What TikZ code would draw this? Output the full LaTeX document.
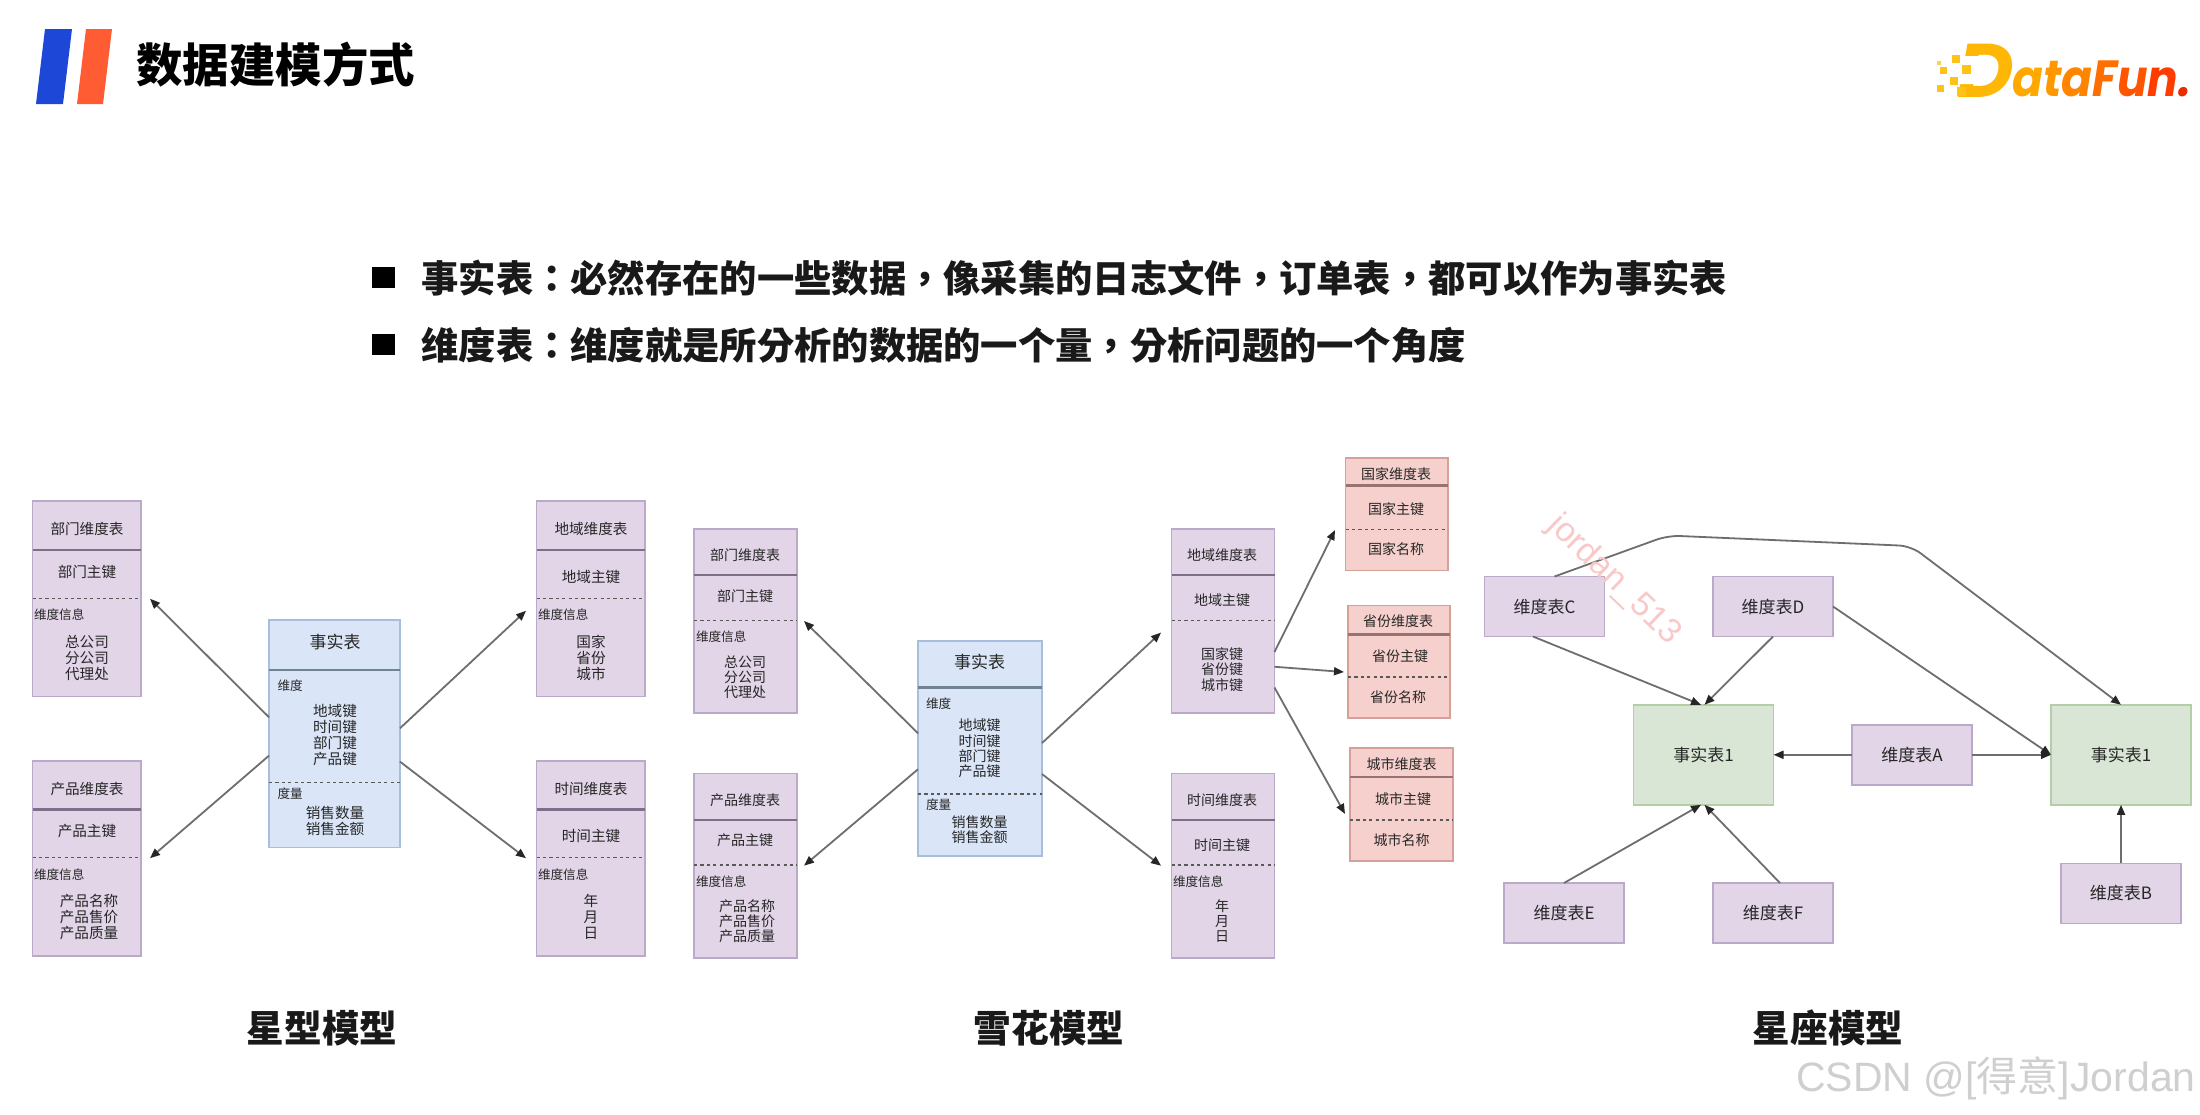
\documentclass[tikz,border=0pt]{standalone}
\usepackage{fontspec}
\setmainfont{Noto Sans CJK SC}
\newfontfamily\latinsans{Liberation Sans}
\newfontfamily\logofont{Poppins}
\newfontfamily\bulletfont{Noto Sans CJK TC}
\usetikzlibrary{arrows.meta,calc}
\definecolor{pfill}{HTML}{E1D5E7}\definecolor{pline}{HTML}{BBA9C9}\definecolor{pbar}{HTML}{7F6E8A}
\definecolor{bfill}{HTML}{DAE6F8}\definecolor{bline}{HTML}{A9BEDC}\definecolor{bbar}{HTML}{6F8296}
\definecolor{gfill}{HTML}{D9E6D6}\definecolor{gline}{HTML}{B4CFA6}
\definecolor{rfill}{HTML}{F6D0CC}\definecolor{rline}{HTML}{D69F9A}\definecolor{rbar}{HTML}{9A7370}
\definecolor{arrowc}{HTML}{6E6E6E}
\definecolor{logoblue}{HTML}{1D47D6}\definecolor{logored}{HTML}{FF5C33}
\definecolor{wmpink}{HTML}{F9C8C8}\definecolor{wmgrey}{HTML}{CFCFCF}
\tikzset{
  tablebox/.style={rectangle,draw=#1line,fill=#1fill,line width=0.8pt,inner sep=0pt,outer sep=0pt},
  headbar/.style={line width=1.3pt},
  dashbar/.style={line width=0.8pt,dash pattern=on 1.6pt off 1.6pt,draw=black!65},
  tx/.style={inner sep=0pt,outer sep=0pt,text=black!85,align=center,font=\fontsize{7.3pt}{8pt}\selectfont},
  txs/.style={tx,font=\fontsize{7pt}{7.65pt}\selectfont},
  smallleft/.style={tx,anchor=west,font=\fontsize{6.3pt}{8pt}\selectfont},
  big/.style={tx,font=\fontsize{8.5pt}{10pt}\selectfont},
  caption/.style={inner sep=0pt,text=black!90,font=\fontsize{18.8pt}{20pt}\bfseries\selectfont},
  bullettext/.style={inner sep=0pt,anchor=west,text=black!90,font=\bulletfont\fontsize{18.65pt}{20pt}\bfseries\selectfont},
  link/.style={draw=arrowc,line width=0.9pt,-{Triangle[length=5pt,width=4pt,color=black!85]}},
  dimbox/.style={tablebox=p,minimum width=60pt,minimum height=30pt,text=black!85,font=\fontsize{8.5pt}{10pt}\selectfont},
  factbox/.style={tablebox=g,minimum width=70pt,minimum height=50pt,text=black!85,font=\fontsize{8.5pt}{10pt}\selectfont}
}
\newcommand\tbl[8]{% name, colour, x0, y0, x1, y1, header y, dash y
  \pgfmathsetmacro\bw{(#5-#3)*0.5}\pgfmathsetmacro\bh{(#6-#4)*0.5}
  \node[tablebox=#2,minimum width=\bw pt,minimum height=\bh pt] (#1) at ({(#3+#5)/2},{(#4+#6)/2}) {};
  \draw[headbar,draw=#2bar] (#3,#7) -- (#5,#7);
  \draw[dashbar] (#3,#8) -- (#5,#8);
}
\begin{document}
\begin{tikzpicture}[x=0.5pt,y=-0.5pt]
\useasboundingbox (0,0) rectangle (2200,1114);
\fill[white] (0,0) rectangle (2200,1114);
% header
\fill[logoblue] (45,29) -- (72,29) -- (63,104) -- (36,104) -- cycle;
\fill[logored] (86,29) -- (112,29) -- (103,104) -- (77,104) -- cycle;
\node[inner sep=0pt,anchor=west,font=\fontsize{23.2pt}{24pt}\bfseries\selectfont] (title) at (136,65) {数据建模方式};
% DataFun logo
\definecolor{d1}{HTML}{FFB705}\definecolor{d2}{HTML}{FFA800}\definecolor{d3}{HTML}{FF9800}\definecolor{d4}{HTML}{FF8500}\definecolor{d5}{HTML}{FF6E00}\definecolor{d6}{HTML}{FF5500}\definecolor{d7}{HTML}{FF3D00}\definecolor{d8}{HTML}{E92C00}
\node[inner sep=0pt,anchor=south west,xscale=1.02,transform shape,font=\logofont\fontsize{38pt}{39pt}\bfseries\itshape\selectfont,text=d1] (logoD) at (1957,98) {D};
\fill[white] (1960,56) -- (1990,56) -- (1984,84) -- (1954,84) -- cycle;
\foreach \px/\py/\ps/\pc in {1937/61/4/FFD24A,1952/55/8/FFC21A,1940/67/7/FFC21A,1962/65/9/FFC21A,1950/77/8/FFC21A,1937/85/7/FFC21A,1957/87/9/FFC21A}{
  \definecolor{dotc}{HTML}{\pc}\fill[dotc] (\px,\py) rectangle ++(\ps,\ps);}
\node[inner sep=0pt,anchor=south west,yscale=1.12,transform shape,font=\logofont\fontsize{22.7pt}{24pt}\bfseries\itshape\selectfont] (logoT) at (2012,97) {\textcolor{d2}{a}\textcolor{d3}{t}\textcolor{d4}{a}\textcolor{d5}{F}\textcolor{d6}{u}\textcolor{d7}{n}\textcolor{d8}{.}};
% bullets
\fill[black] (372,267) rectangle (395,288);
\fill[black] (372,334) rectangle (395,355);
\node[bullettext] (b1) at (421,278) {事实表：必然存在的一些数据，像采集的日志文件，订单表，都可以作为事实表};
\node[bullettext] (b2) at (421,345) {维度表：维度就是所分析的数据的一个量，分析问题的一个角度};
% --- star model ---
\tbl{sD}{p}{32.5}{501}{141}{696.5}{550}{598.3}
\tbl{sP}{p}{32.5}{760.7}{141}{955.7}{809.3}{857.3}
\tbl{sG}{p}{536.5}{501}{645}{696.5}{550}{598.3}
\tbl{sT}{p}{536.5}{760.7}{645}{955.7}{809.3}{857.3}
\tbl{sF}{b}{269}{620}{400}{847.3}{670}{782.3}
\node[tx] (sD1) at (87,529.3) {部门维度表};
\node[tx] (sD2) at (87,571.7) {部门主键};
\node[smallleft] (sD3) at (34,615) {维度信息};
\node[tx] (sD4) at (87,658) {总公司\\分公司\\代理处};
\node[tx] (sP1) at (87,788.7) {产品维度表};
\node[tx] (sP2) at (87,831) {产品主键};
\node[smallleft] (sP3) at (34,874.3) {维度信息};
\node[tx] (sP4) at (89,917) {产品名称\\产品售价\\产品质量};
\node[tx] (sG1) at (591,529.3) {地域维度表};
\node[tx] (sG2) at (591,577.3) {地域主键};
\node[smallleft] (sG3) at (538,615) {维度信息};
\node[tx] (sG4) at (591,658) {国家\\省份\\城市};
\node[tx] (sT1) at (591,788.7) {时间维度表};
\node[tx] (sT2) at (591,836) {时间主键};
\node[smallleft] (sT3) at (538,874.3) {维度信息};
\node[tx] (sT4) at (591,917) {年\\月\\日};
\node[big] (sF1) at (335,642.3) {事实表};
\node[smallleft] (sF2) at (277.5,686) {维度};
\node[tx] (sF3) at (335,734.7) {地域键\\时间键\\部门键\\产品键};
\node[smallleft] (sF4) at (277.5,793.3) {度量};
\node[tx] (sF5) at (335,820.7) {销售数量\\销售金额};
\draw[link] ([yshift=8.2pt]sF.west) -- ([xshift=4.5pt]sD.east);
\draw[link] ([yshift=-11pt]sF.west) -- ([xshift=4.5pt]sP.east);
\draw[link] ([yshift=2.7pt]sF.east) -- ([shift={(-5.25pt,-6pt)}]sG.west);
\draw[link] ([yshift=-14pt]sF.east) -- ([xshift=-5.25pt]sT.west);
\node[caption] (capA) at (322,1028) {星型模型};
% --- snowflake model ---
\tbl{fD}{p}{694}{528.7}{797}{713.2}{575}{620.4}
\tbl{fP}{p}{694}{773.4}{797}{958}{819.8}{865.2}
\tbl{fG}{p}{1171.5}{528.7}{1274.5}{713.2}{575}{620.4}
\tbl{fT}{p}{1171.5}{773.4}{1274.5}{958}{819.8}{865.2}
\tbl{fF}{b}{918}{641}{1042}{855.9}{687.5}{794}
\tbl{fC}{r}{1345.6}{457.9}{1448}{570.6}{485.7}{529.4}
\tbl{fS}{r}{1348}{605.3}{1450}{717.7}{634.2}{677.2}
\tbl{fI}{r}{1350}{748}{1453}{860.7}{776.8}{819.8}
\node[txs] (fD1) at (745,555.5) {部门维度表};
\node[txs] (fD2) at (745,595.7) {部门主键};
\node[smallleft] (fD3) at (696,636.6) {维度信息};
\node[txs] (fD4) at (745,677.2) {总公司\\分公司\\代理处};
\node[txs] (fP1) at (745,799.9) {产品维度表};
\node[txs] (fP2) at (745,839.7) {产品主键};
\node[smallleft] (fP3) at (696,881.3) {维度信息};
\node[txs] (fP4) at (747,921.2) {产品名称\\产品售价\\产品质量};
\node[txs] (fG1) at (1222,555.5) {地域维度表};
\node[txs] (fG2) at (1222,600.5) {地域主键};
\node[txs] (fG3) at (1222,669.6) {国家键\\省份键\\城市键};
\node[txs] (fT1) at (1222,799.9) {时间维度表};
\node[txs] (fT2) at (1222,845.6) {时间主键};
\node[smallleft] (fT3) at (1173,881.3) {维度信息};
\node[txs] (fT4) at (1222,921.2) {年\\月\\日};
\node[big] (fF1) at (979.5,661.7) {事实表};
\node[smallleft] (fF2) at (926,703.3) {维度};
\node[txs] (fF3) at (979.5,748.5) {地域键\\时间键\\部门键\\产品键};
\node[smallleft] (fF4) at (926,805) {度量};
\node[txs] (fF5) at (979.5,830) {销售数量\\销售金额};
\node[txs] (fC1) at (1396,473.7) {国家维度表};
\node[txs] (fC2) at (1396,508.7) {国家主键};
\node[txs] (fC3) at (1396,549.3) {国家名称};
\node[txs] (fS1) at (1398,621.5) {省份维度表};
\node[txs] (fS2) at (1400,656.5) {省份主键};
\node[txs] (fS3) at (1398,697.1) {省份名称};
\node[txs] (fI1) at (1401.6,764.1) {城市维度表};
\node[txs] (fI2) at (1403,799.2) {城市主键};
\node[txs] (fI3) at (1401.6,839.7) {城市名称};
\draw[link] ([yshift=7.6pt]fF.west) -- ([xshift=3.5pt]fD.east);
\draw[link] ([yshift=-10.4pt]fF.west) -- ([xshift=3.5pt]fP.east);
\draw[link] ([yshift=2.7pt]fF.east) -- ([shift={(-5.25pt,-5.8pt)}]fG.west);
\draw[link] ([yshift=-12.8pt]fF.east) -- ([xshift=-5.25pt]fT.west);
\draw[link] ([yshift=-15.5pt]fG.east) -- ([shift={(-5.3pt,-7.9pt)}]fC.west);
\draw[link] ([yshift=-22.9pt]fG.east) -- ([shift={(-2pt,-5.25pt)}]fS.west);
\draw[link] ([yshift=-33.3pt]fG.east) -- ([shift={(-2.5pt,-4.8pt)}]fI.west);
\node[caption] (capB) at (1049,1028) {雪花模型};
% --- constellation model ---
\node[dimbox] (dC) at (1544.5,606.5) {维度表C};
\node[dimbox] (dD) at (1773,606.5) {维度表D};
\node[dimbox] (dA) at (1912,754.8) {维度表A};
\node[dimbox] (dE) at (1564,913) {维度表E};
\node[dimbox] (dF) at (1773,913) {维度表F};
\node[dimbox] (dB) at (2121,893.4) {维度表B};
\node[factbox] (f1) at (1703.5,754.8) {事实表1};
\node[factbox] (f2) at (2121,754.8) {事实表1};
\coordinate (cv1) at (1668,535.5);
\coordinate (cv2) at (1911,546);
\draw[link,rounded corners=6pt] ([xshift=5pt]dC.north) -- (cv1) -- (cv2) -- (f2.north);
\draw[link] ([xshift=-5.75pt]dC.south) -- ([xshift=-1.25pt]f1.north);
\draw[link] (dD.south) -- ([xshift=0.5pt]f1.north);
\draw[link] (dD.east) -- (f2.west);
\draw[link] (dA.west) -- (f1.east);
\draw[link] (dA.east) -- (f2.west);
\draw[link] (dE.north) -- ([xshift=-1.25pt]f1.south);
\draw[link] ([xshift=3.5pt]dF.north) -- ([xshift=0.5pt]f1.south);
\draw[link] (dB.north) -- (f2.south);
\node[caption] (capC) at (1828,1028) {星座模型};
% watermarks
\node[inner sep=0pt,rotate=-44,text=wmpink,font=\latinsans\fontsize{17pt}{18pt}\selectfont] (wm1) at (1614,580) {jordan\_513};
\node[inner sep=0pt,anchor=east,text=wmgrey,font=\latinsans\fontsize{20.5pt}{21pt}\selectfont] (wm2) at (2196,1078) {CSDN @[{\rmfamily 得意}]Jordan};
\end{tikzpicture}
\end{document}
